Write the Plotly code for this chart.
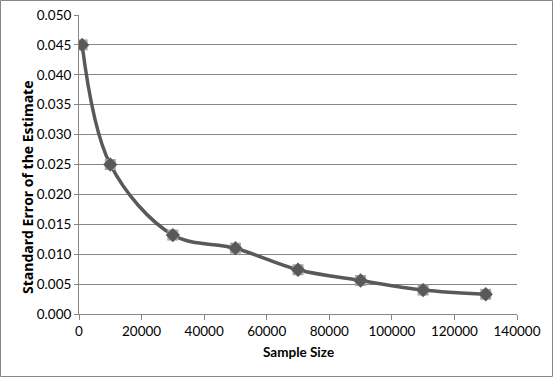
import plotly.graph_objects as go

sample_size = [1000, 10000, 30000, 50000, 70000, 90000, 110000, 130000]
std_error = [0.045, 0.025, 0.0132, 0.0110, 0.0074, 0.0056, 0.0040, 0.0033]

W, H = 553, 377
L, R, T, B = 79, 36, 15, 63
pw, ph = W - L - R, H - T - B


def px_x(p):
    # page pixel -> paper x
    return (p - L) / pw


def px_y(p):
    # page pixel -> paper y
    return (T + ph - p) / ph


fig = go.Figure()

# smoothed line
fig.add_trace(go.Scatter(x=sample_size, y=std_error, mode="lines",
                         line=dict(color="#595959", width=3.5, shape="spline", smoothing=1.0),
                         hoverinfo="skip", showlegend=False))
# light square behind the diamond marker, like the excel marker
fig.add_trace(go.Scatter(x=sample_size, y=std_error, mode="markers",
                         marker=dict(symbol="square", size=11, color="#a6a6a6"),
                         showlegend=False))
fig.add_trace(go.Scatter(x=sample_size, y=std_error, mode="markers",
                         marker=dict(symbol="diamond", size=11, color="#595959"),
                         showlegend=False))

font = "Lato, 'Open Sans', sans-serif"
fig.update_layout(
    width=W, height=H,
    margin=dict(l=L, r=R, t=T, b=B, autoexpand=False),
    paper_bgcolor="white", plot_bgcolor="white",
    font=dict(family=font, size=13.5, color="#000000"),
    showlegend=False,
)
fig.update_xaxes(range=[0, 140000], dtick=20000, tickformat="d", automargin=False,
                 showgrid=False, zeroline=False,
                 showline=True, linecolor="#868686", linewidth=1,
                 ticks="outside", ticklen=5, tickcolor="#868686")
fig.update_yaxes(range=[0, 0.05], dtick=0.005, tickformat=".3f", automargin=False,
                 showgrid=True, gridcolor="#868686", gridwidth=1, zeroline=False,
                 showline=True, linecolor="#868686", linewidth=1,
                 ticks="outside", ticklen=4, tickcolor="#868686")

# axis titles placed like the excel chart (y title centred on the whole chart)
fig.add_annotation(text="<b>Sample Size</b>", xref="paper", yref="paper",
                   x=px_x(298), y=px_y(352),
                   showarrow=False, font=dict(size=13.5), xanchor="center", yanchor="middle")
fig.add_annotation(text="<b>Standard Error of the Estimate</b>", xref="paper", yref="paper",
                   x=px_x(27), y=px_y(188), textangle=-90,
                   showarrow=False, font=dict(size=14, family="'Open Sans', sans-serif"),
                   xanchor="center", yanchor="middle")

# outer chart border
fig.add_shape(type="rect", xref="paper", yref="paper",
              x0=px_x(0.5), x1=px_x(W - 0.5), y0=px_y(H - 0.5), y1=px_y(0.5),
              line=dict(color="#868686", width=1), layer="below")

# drop the default body margin so the chart fills the window
fig.write_html("out.html", config={"displayModeBar": False},
               post_script="document.body.style.margin='0';")
